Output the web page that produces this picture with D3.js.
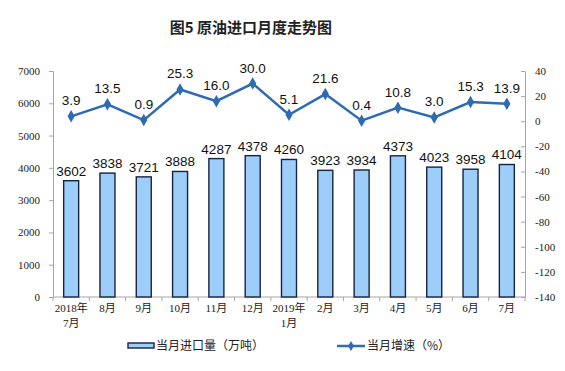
<!DOCTYPE html>
<html>
<head>
<meta charset="utf-8">
<script src="https://cdn.jsdelivr.net/npm/d3@7"></script>
<style>
body { margin: 0; background: #fff; }
</style>
</head>
<body>
<svg id="chart" width="565" height="371"></svg>
<script>
var months = ["2018年\n7月", "8月", "9月", "10月", "11月", "12月", "2019年\n1月", "2月", "3月", "4月", "5月", "6月", "7月"];
var imports = [3602, 3838, 3721, 3888, 4287, 4378, 4260, 3923, 3934, 4373, 4023, 3958, 4104];
var growth = [3.9, 13.5, 0.9, 25.3, 16.0, 30.0, 5.1, 21.6, 0.4, 10.8, 3.0, 15.3, 13.9];
var leftTicks = [0, 1000, 2000, 3000, 4000, 5000, 6000, 7000];
var rightTicks = [40, 20, 0, -20, -40, -60, -80, -100, -120, -140];

var svg = d3.select("#chart");
// plot box (window.top is reserved, so use other names)
var pLeft = 53, pRight = 525, pTop = 71, pBottom = 297;
var serif = "'Liberation Serif', 'Noto Sans CJK SC', serif";
var sans = "'Liberation Sans', Arial, sans-serif";
var cjk = "'Noto Sans CJK SC', sans-serif";
var axisGray = "#a6a6a6";
var lineBlue = "#2f6bb3";
var plain = function(d) { return String(d); };  // keep ascii hyphen for negatives

var x = d3.scaleBand().domain(d3.range(months.length)).range([pLeft, pRight]);
var yL = d3.scaleLinear().domain([0, 7000]).range([pBottom, pTop]);
var yR = d3.scaleLinear().domain([-140, 40]).range([pBottom, pTop]);

// title
svg.append("text")
    .attr("x", 251)
    .attr("y", 33)
    .attr("text-anchor", "middle")
    .attr("font-family", cjk)
    .attr("font-size", "15px")
    .attr("font-weight", "bold")
    .attr("fill", "#222")
    .text("图5  原油进口月度走势图");

// left axis
var gl = svg.append("g").attr("transform", "translate(" + pLeft + ",0)")
    .call(d3.axisLeft(yL).tickValues(leftTicks).tickSize(4).tickPadding(9).tickFormat(plain));
gl.selectAll("path, line").attr("stroke", axisGray);
gl.selectAll("text").attr("font-family", serif).attr("font-size", "11px").attr("fill", "#222");

// right axis
var gr = svg.append("g").attr("transform", "translate(" + pRight + ",0)")
    .call(d3.axisRight(yR).tickValues(rightTicks).tickSize(0).tickPadding(10).tickFormat(plain));
gr.selectAll("path").attr("stroke", axisGray);
gr.selectAll("text").attr("font-family", serif).attr("font-size", "11px").attr("fill", "#222");
gr.selectAll(".tick").append("line").attr("x1", -4).attr("x2", 0).attr("stroke", axisGray);

// bottom axis
svg.append("line")
    .attr("x1", pLeft).attr("x2", pRight)
    .attr("y1", pBottom).attr("y2", pBottom)
    .attr("stroke", axisGray);
svg.append("g").selectAll("line").data(d3.range(months.length + 1)).enter()
    .append("line")
    .attr("x1", function(d) { return pLeft + d * x.step(); })
    .attr("x2", function(d) { return pLeft + d * x.step(); })
    .attr("y1", pBottom).attr("y2", pBottom + 4)
    .attr("stroke", axisGray);

var xl = svg.append("g").selectAll("text").data(months).enter()
    .append("text")
    .attr("text-anchor", "middle")
    .attr("font-family", serif)
    .attr("font-size", "11px")
    .attr("fill", "#222");
xl.each(function(d, i) {
    var parts = d.split("\n");
    var t = d3.select(this);
    parts.forEach(function(p, j) {
        t.append("tspan")
            .attr("x", x(i) + x.bandwidth() / 2)
            .attr("y", 312 + j * 15)
            .text(p);
    });
});

// bars
var bw = 15;
svg.append("g").selectAll("rect").data(imports).enter()
    .append("rect")
    .attr("x", function(d, i) { return x(i) + x.bandwidth() / 2 - bw / 2; })
    .attr("y", function(d) { return yL(d); })
    .attr("width", bw)
    .attr("height", function(d) { return pBottom - yL(d); })
    .attr("fill", "#9dcdf9")
    .attr("stroke", "#16243f")
    .attr("stroke-width", 1.4);

svg.append("g").selectAll("text").data(imports).enter()
    .append("text")
    .attr("x", function(d, i) { return x(i) + x.bandwidth() / 2; })
    .attr("y", function(d) { return yL(d) - 5; })
    .attr("text-anchor", "middle")
    .attr("font-family", sans)
    .attr("font-size", "13.5px")
    .attr("fill", "#111")
    .text(function(d) { return d; });

// growth line
var line = d3.line()
    .x(function(d, i) { return x(i) + x.bandwidth() / 2; })
    .y(function(d) { return yR(d); });
svg.append("path")
    .datum(growth)
    .attr("d", line)
    .attr("fill", "none")
    .attr("stroke", lineBlue)
    .attr("stroke-width", 2.5);

svg.append("g").selectAll("path").data(growth).enter()
    .append("path")
    .attr("d", d3.symbol().type(d3.symbolDiamond).size(45))
    .attr("transform", function(d, i) {
        return "translate(" + (x(i) + x.bandwidth() / 2) + "," + yR(d) + ")";
    })
    .attr("fill", lineBlue);

svg.append("g").selectAll("text").data(growth).enter()
    .append("text")
    .attr("x", function(d, i) { return x(i) + x.bandwidth() / 2; })
    .attr("y", function(d) { return yR(d) - 11; })
    .attr("text-anchor", "middle")
    .attr("font-family", sans)
    .attr("font-size", "13.5px")
    .attr("fill", "#111")
    .text(function(d) { return d.toFixed(1); });

// legend
svg.append("rect")
    .attr("x", 128).attr("y", 343)
    .attr("width", 26).attr("height", 5)
    .attr("fill", "#9dcdf9")
    .attr("stroke", "#16243f")
    .attr("stroke-width", 1.4);
svg.append("text")
    .attr("x", 156).attr("y", 350)
    .attr("font-family", cjk)
    .attr("font-size", "12px")
    .attr("fill", "#222")
    .text("当月进口量（万吨）");

svg.append("line")
    .attr("x1", 337).attr("x2", 365)
    .attr("y1", 346).attr("y2", 346)
    .attr("stroke", lineBlue)
    .attr("stroke-width", 2.5);
svg.append("path")
    .attr("d", d3.symbol().type(d3.symbolDiamond).size(30))
    .attr("transform", "translate(351,346)")
    .attr("fill", lineBlue);
svg.append("text")
    .attr("x", 367).attr("y", 350)
    .attr("font-family", cjk)
    .attr("font-size", "12px")
    .attr("fill", "#222")
    .text("当月增速（%）");
</script>
</body>
</html>
